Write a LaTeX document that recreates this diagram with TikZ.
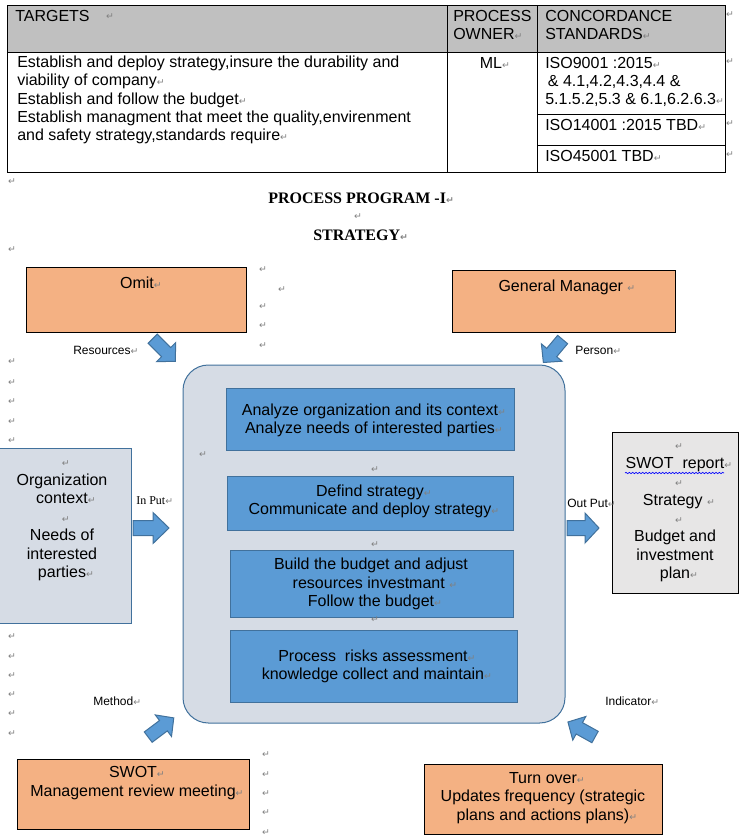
\documentclass[tikz,border=0pt]{standalone}
\usepackage{fontspec}
\setmainfont{Liberation Sans}
\newfontfamily\seriff{Liberation Serif}
\newfontfamily\symf{DejaVu Sans}
\usetikzlibrary{fit,decorations.pathmorphing}
\definecolor{orangef}{HTML}{F4B183}
\definecolor{bluef}{HTML}{5B9BD5}
\definecolor{blued}{HTML}{41719C}
\definecolor{lightf}{HTML}{D6DCE5}
\definecolor{grayf}{HTML}{E7E6E6}
\definecolor{headf}{HTML}{C0C0C0}
\definecolor{markgray}{HTML}{808080}
\newcommand\rmk{\rlap{\symf\fontsize{7}{7}\selectfont\textcolor{markgray}{↵}}}
\newcommand\barrow[7]{%
  \begin{scope}[shift={(#1,#2)},rotate=#3]
    \filldraw[fill=bluef,draw=blued,line width=0.75pt,line join=miter]
      (-#4,-#5) -- ({#4-#7},-#5) -- ({#4-#7},-#6) -- (#4,0) --
      ({#4-#7},#6) -- ({#4-#7},#5) -- (-#4,#5) -- cycle;
  \end{scope}}
\tikzset{
  fbox/.style={inner sep=0pt,line width=0.75pt},
  obox/.style={fbox,draw=black,fill=orangef},
  bbox/.style={fbox,draw=blued,fill=bluef},
  mbox/.style={fbox,draw=blued,fill=lightf,rounded corners=19pt},
  lbox/.style={fbox,draw=blued,fill=lightf},
  gbox/.style={fbox,draw=black,fill=grayf},
  txt/.style={inner sep=0pt,align=center,font=\fontsize{12}{13.7}\selectfont},
  ltxt/.style={inner sep=0pt,align=left,anchor=west,font=\fontsize{12}{13.8}\selectfont},
  lbl/.style={inner sep=0pt,anchor=west,font=\fontsize{9}{10}\selectfont},
  ttl/.style={inner sep=0pt,anchor=west,font=\seriff\bfseries\fontsize{12}{14}\selectfont},
  pm/.style={inner sep=0pt,font=\symf\fontsize{7}{7}\selectfont,text=markgray},
}
\begin{document}
\begin{tikzpicture}[x=0.75pt,y=-0.75pt]
\useasboundingbox (0,0) rectangle (746,840);
\clip (0,0) rectangle (746,840);
% ---------- table ----------
\fill[headf] (7,5) rectangle (725,52);
\draw[line width=0.75pt] (7,5) rectangle (725,172);
\draw[line width=0.75pt] (7,52) -- (725,52);
\draw[line width=0.75pt] (447,5) -- (447,172);
\draw[line width=0.75pt] (537,5) -- (537,172);
\draw[line width=0.75pt] (537,114) -- (725,114);
\draw[line width=0.75pt] (537,145) -- (725,145);
\node[ltxt] (thA) at (15,16) {TARGETS};
\node[pm] (thAm) at (110,17) {↵};
\node[ltxt,font=\fontsize{12}{13.5}\selectfont] (thB) at (453,25) {PROCESS\\OWNER\rmk};
\node[ltxt,font=\fontsize{12}{13.5}\selectfont] (thC) at (545,25) {CONCORDANCE\\STANDARDS\rmk};
\node[ltxt] (tbody) at (17,100) {Establish and deploy strategy,insure the durability and\\viability of company\rmk\\Establish and follow the budget\rmk\\Establish managment that meet the quality,envirenment\\and safety strategy,standards require\rmk};
\node[txt] (tml) at (491,63) {ML\rmk};
\node[ltxt] (tiso1) at (545,82) {ISO9001 :2015\rmk\\ \,\& 4.1,4.2,4.3,4.4 \&\\5.1.5.2,5.3 \& 6.1,6.2.6.3\rmk};
\node[ltxt] (tiso2) at (545,125) {ISO14001 :2015 TBD\rmk};
\node[ltxt] (tiso3) at (545,156) {ISO45001 TBD\rmk};
% ---------- titles ----------
\node[ttl] (title1) at (268,198) {PROCESS PROGRAM -I\rmk};
\node[ttl] (title2) at (313,235) {STRATEGY\rmk};
% ---------- boxes ----------
\node[obox,fit={(26,267)(246,332)}] (omit) {};
\node[obox,fit={(452,270)(675,332)}] (gm) {};
\node[mbox,fit={(183,365)(565,723)}] (main) {};
\node[bbox,fit={(226,388)(514,450)}] (b1) {};
\node[bbox,fit={(227,476)(513,530)}] (b2) {};
\node[bbox,fit={(230,550)(513,617)}] (b3) {};
\node[bbox,fit={(230,630)(517,702)}] (b4) {};
\node[lbox,fit={(-10,448)(131,623)}] (org) {};
\node[gbox,fit={(612,432)(738,593)}] (out) {};
\node[obox,fit={(17,759)(249,829)}] (swot) {};
\node[obox,fit={(424,764)(662,834)}] (turn) {};
% ---------- block arrows ----------
\barrow{151}{528}{0}{18}{7.5}{15.5}{16}
\barrow{583}{528}{0}{16}{7.5}{15}{14}
\barrow{164}{350}{-45}{16}{6.5}{13.5}{13}
\barrow{553}{351}{-130}{15}{6.5}{13.5}{13}
\barrow{161}{727.5}{37}{16}{6.5}{13.5}{13}
\barrow{581.5}{729.5}{151}{15.5}{6.5}{13.5}{13}
% ---------- box texts ----------
\node[txt] (tomit) at (137,283) {Omit\rmk};
\node[txt] (tgm) at (563,287) {General Manager \rmk};
\node[txt,font=\fontsize{12}{13.5}\selectfont] (tb1) at (370,420) {Analyze organization and its context\rmk\\Analyze needs of interested parties\rmk};
\node[txt,font=\fontsize{12}{13.5}\selectfont] (tb2) at (370,501) {Defind strategy\rmk\\Communicate and deploy strategy\rmk};
\node[txt,font=\fontsize{12}{13.8}\selectfont] (tb3) at (371,584) {Build the budget and adjust\\resources investmant \rmk\\Follow the budget\rmk};
\node[txt,font=\fontsize{12}{13.5}\selectfont] (tb4) at (373,666) {Process\ \ risks assessment\rmk\\knowledge collect and maintain\rmk};
\node[txt,font=\fontsize{12}{13.9}\selectfont] (torg) at (62,521) {\rmk\\Organization\\context\rmk\\\rmk\\Needs of\\interested\\parties\rmk};
\node[txt,font=\fontsize{12}{13.8}\selectfont] (tout) at (675,513) {\rmk\\SWOT\ \ report\rmk\\\rmk\\Strategy \rmk\\\rmk\\Budget and\\investment\\plan\rmk};
\draw[blue,line width=0.5pt,decorate,decoration={snake,amplitude=0.5pt,segment length=2.5pt}] (625,473) -- (724,473);
\node[txt] (tswot) at (133,783) {SWOT\rmk\\Management review meeting\rmk};
\node[txt,font=\fontsize{12}{13.8}\selectfont] (tturn) at (543,798) {Turn over\rmk\\Updates frequency (strategic\\plans and actions plans)\rmk};
% ---------- labels ----------
\node[lbl] (lres) at (73,350) {Resources\rmk};
\node[lbl] (lper) at (575,350) {Person\rmk};
\node[lbl,font=\seriff\fontsize{9}{10}\selectfont] (lin) at (136,501) {In Put\rmk};
\node[lbl] (lout) at (567,503) {Out Put\rmk};
\node[lbl] (lmet) at (93,701) {Method\rmk};
\node[lbl] (lind) at (605,701) {Indicator\rmk};
% ---------- paragraph marks ----------
\foreach \mx/\my [count=\i] in {730/15,730/62,730/124,730/155,12/182,358/217,12/250,
  263/270,282/290,263/307,263/326,263/346,12/362,12/383,12/402,12/422,12/441,
  203/455,375/470,375/545,375/620,12/637,12/657,12/676,12/695,12/714,12/734,
  266/755,266/775,266/794,266/813,266/833}
  \node[pm] (pm\i) at (\mx,\my) {↵};
\end{tikzpicture}
\end{document}
